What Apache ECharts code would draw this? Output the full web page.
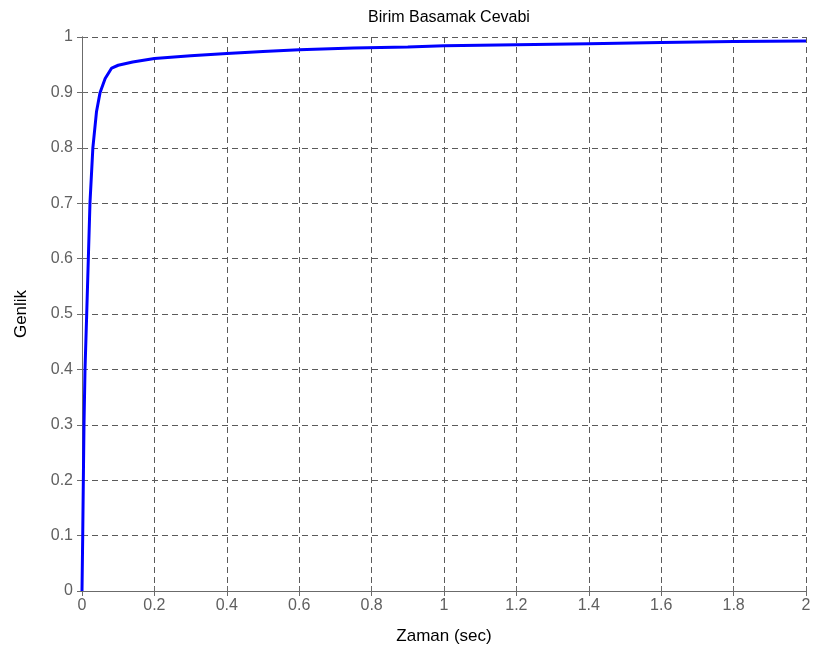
<!doctype html>
<html>
  <head>
    <meta charset="utf-8">
    <title>Birim Basamak Cevabi</title>
    <script src="https://cdn.jsdelivr.net/npm/echarts@6/dist/echarts.min.js"></script>
    <style>
      html, body { margin: 0; padding: 0; background: #FFFFFF; }
      #chart { width: 815px; height: 660px; }
    </style>
  </head>
  <body>
    <div id="chart"></div>
    <script type="text/javascript">
      // zaman (sec) ve genlik degerleri
      var zaman = [0, 0.002, 0.0037, 0.0055, 0.0083, 0.013, 0.0175, 0.022, 0.03, 0.04, 0.05, 0.064, 0.082,
        0.1, 0.14, 0.2, 0.3, 0.4, 0.5, 0.6, 0.75, 0.9, 1.0, 1.2, 1.4, 1.6, 1.8, 2.0];
      var genlik = [0, 0.1, 0.2, 0.3, 0.4, 0.5, 0.6, 0.7, 0.8, 0.865, 0.9, 0.925, 0.944,
        0.949, 0.955, 0.961, 0.966, 0.970, 0.974, 0.977, 0.980, 0.982, 0.984, 0.986, 0.988, 0.990, 0.992, 0.993];
      var xTicks = [0, 0.2, 0.4, 0.6, 0.8, 1, 1.2, 1.4, 1.6, 1.8, 2];
      var yTicks = [0, 0.1, 0.2, 0.3, 0.4, 0.5, 0.6, 0.7, 0.8, 0.9, 1];

      var points = [];
      for (var i = 0; i < zaman.length; i++) {
        points.push([zaman[i], genlik[i]]);
      }

      var gridLine = { show: true, lineStyle: { color: '#5a5a5a', type: [6, 4], width: 1 } };
      var axisLine = { show: true, lineStyle: { color: '#6b6b6b', width: 1 } };
      var tickLabel = { color: '#606060', fontSize: 16, fontFamily: 'Liberation Sans, Arial, sans-serif' };
      var nameStyle = { color: '#000000', fontSize: 17, fontFamily: 'Liberation Sans, Arial, sans-serif' };

      var myChart = echarts.init(document.getElementById('chart'));
      myChart.setOption({
        animation: false,
        backgroundColor: '#FFFFFF',
        title: {
          text: 'Birim Basamak Cevabi',
          left: 444,
          textAlign: 'center',
          top: 5,
          textStyle: { color: '#000000', fontSize: 16, fontWeight: 'normal', fontFamily: 'Liberation Sans Narrow, Arial, sans-serif' }
        },
        grid: { left: 82, right: 9, top: 37, bottom: 69, containLabel: false },
        xAxis: [{
          type: 'value',
          min: 0, max: 2, interval: 0.2,
          name: 'Zaman (sec)',
          nameLocation: 'middle',
          nameGap: 37,
          nameTextStyle: nameStyle,
          axisLine: axisLine,
          axisTick: { show: true, inside: true, length: 5, lineStyle: { color: '#6b6b6b' } },
          axisLabel: Object.assign({ margin: 7, formatter: function (v) { return xTicks.indexOf(+v.toFixed(1)) >= 0 ? +v.toFixed(1) + '' : ''; } }, tickLabel),
          splitLine: gridLine
        }, {
          type: 'value', position: 'top',
          min: 0, max: 2, interval: 0.2,
          axisLine: axisLine,
          axisTick: { show: true, inside: true, length: 5, lineStyle: { color: '#6b6b6b' } },
          axisLabel: { show: false },
          splitLine: { show: false }
        }],
        yAxis: [{
          type: 'value',
          min: 0, max: 1, interval: 0.1,
          name: 'Genlik',
          nameLocation: 'middle',
          nameGap: 52,
          nameRotate: 90,
          nameTextStyle: nameStyle,
          axisLine: axisLine,
          axisTick: { show: true, inside: true, length: 5, lineStyle: { color: '#6b6b6b' } },
          axisLabel: Object.assign({ margin: 9, formatter: function (v) { return yTicks.indexOf(+v.toFixed(1)) >= 0 ? +v.toFixed(1) + '' : ''; } }, tickLabel),
          splitLine: gridLine
        }, {
          type: 'value', position: 'right',
          min: 0, max: 1, interval: 0.1,
          axisLine: axisLine,
          axisTick: { show: true, inside: true, length: 5, lineStyle: { color: '#6b6b6b' } },
          axisLabel: { show: false },
          splitLine: { show: false }
        }],
        series: [{
          type: 'line',
          data: points,
          showSymbol: false,
          smooth: false,
          lineStyle: { color: '#0000FF', width: 3 },
          clip: true
        }]
      });
    </script>
  </body>
</html>
